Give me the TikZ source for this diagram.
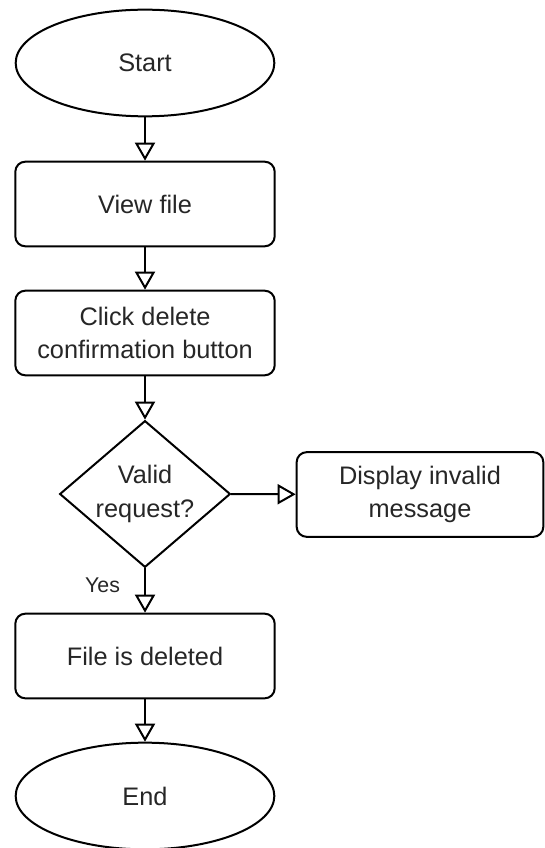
\documentclass[tikz,border=0pt]{standalone}
\usepackage{fontspec}
\setmainfont{Liberation Sans}
\usetikzlibrary{shapes.geometric,arrows.meta}
\begin{document}
\begin{tikzpicture}[x=0.75pt,y=-0.75pt,
  every node/.style={font=\fontsize{19}{25}\selectfont, text=black!85, align=center, inner sep=0pt},
  term/.style={draw=black, ellipse, line width=1.5pt, minimum width=194pt, minimum height=80pt},
  procbox/.style={draw=black, rectangle, rounded corners=7.5pt, line width=1.5pt, minimum width=194.5pt, minimum height=63.5pt},
  decision/.style={draw=black, diamond, aspect=1.16, line width=1.5pt, minimum width=128pt, minimum height=110pt},
  flow/.style={line width=1.5pt, -{Triangle[open, length=13.5pt, width=15pt, line width=1.5pt]}}
]
\useasboundingbox (0,0) rectangle (545,848);
\node[term] (start) at (145,63) {Start};
\node[procbox] (view) at (145,204) {View file};
\node[procbox] (click) at (145,333) {Click delete\\confirmation button};
\node[decision] (valid) at (145,494) {Valid\\request?};
\node[procbox, minimum width=185pt] (invalid) at (420,494.5) {Display invalid\\message};
\node[procbox] (deleted) at (145,656) {File is deleted};
\node[term] (end) at (145,796) {End};
\draw[flow] (start) -- (view);
\draw[flow] (view) -- (click);
\draw[flow] (click) -- (valid);
\draw[flow] (valid) -- (invalid);
\draw[flow] (valid) -- node[pos=0.38, left=18pt, font=\fontsize{16}{18}\selectfont] (yes) {Yes} (deleted);
\draw[flow] (deleted) -- (end);
\end{tikzpicture}
\end{document}
